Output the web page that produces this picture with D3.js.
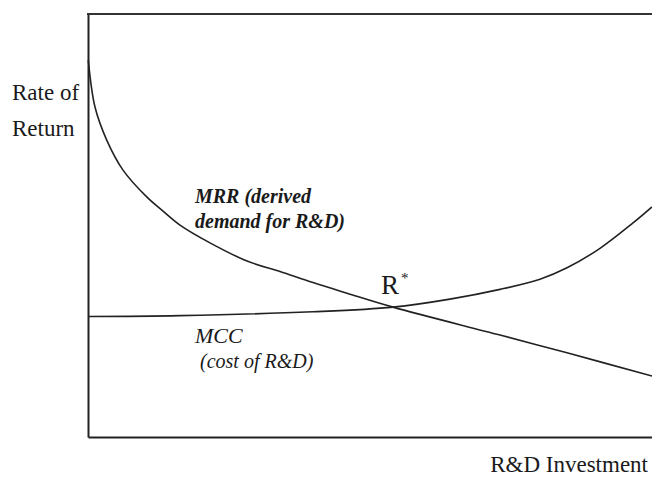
<!DOCTYPE html>
<html>
<head>
<meta charset="utf-8">
<script src="https://cdn.jsdelivr.net/npm/d3@7"></script>
<style>
  body { margin: 0; background: #fff; }
  text { font-family: "Liberation Serif", "Times New Roman", serif; fill: #1a1a1a; }
</style>
</head>
<body>
<svg id="chart"></svg>
<script>
const width = 652;
const height = 477;

// MRR (derived demand for R&D)
const mrrX = [0.05, 1.24, 3.32, 6.21, 10.46, 13.3, 16.31, 21.63, 28.19, 34.04, 39.89, 45.92, 54.08, 73.05, 84.93, 100];
const mrrY = [89.1, 78.0, 70.2, 63.1, 56.7, 53.4, 50.1, 45.9, 41.6, 39.1, 36.5, 34.0, 30.7, 24.1, 19.9, 14.4];

// MCC (cost of R&D)
const mccX = [0, 16.31, 39.89, 54.08, 64.18, 73.05, 80.14, 84.93, 90.78, 96.63, 100];
const mccY = [28.5, 28.7, 29.6, 30.7, 32.6, 34.9, 37.3, 40.0, 44.6, 50.6, 54.4];

// equilibrium point R*
const eqX = 54.08;
const eqY = 30.7;

var svg = d3.select("#chart")
    .attr("width", width)
    .attr("height", height);

var x = d3.scaleLinear().domain([0, 100]).range([88, 652]);
var y = d3.scaleLinear().domain([0, 100]).range([437, 14]);

var line = d3.line()
    .x(d => x(d[0]))
    .y(d => y(d[1]))
    .curve(d3.curveCatmullRom.alpha(0.5));

// frame: left axis, bottom axis, top line
svg.append("g")
    .attr("transform", `translate(${x(0)},0)`)
    .call(d3.axisLeft(y).ticks(0).tickSizeOuter(0))
    .select(".domain").attr("stroke", "#222").attr("stroke-width", 2);

svg.append("g")
    .attr("transform", `translate(0,${y(0)})`)
    .call(d3.axisBottom(x).ticks(0).tickSizeOuter(0))
    .select(".domain").attr("stroke", "#222").attr("stroke-width", 2);

svg.append("line")
    .attr("x1", x(0) - 1).attr("x2", x(100))
    .attr("y1", y(100)).attr("y2", y(100))
    .attr("stroke", "#333").attr("stroke-width", 2);

// curves
svg.append("path")
    .datum(d3.zip(mrrX, mrrY))
    .attr("fill", "none")
    .attr("stroke", "#222")
    .attr("stroke-width", 1.6)
    .attr("d", line);

svg.append("path")
    .datum(d3.zip(mccX, mccY))
    .attr("fill", "none")
    .attr("stroke", "#222")
    .attr("stroke-width", 1.6)
    .attr("d", line);

// axis titles
svg.append("text").attr("x", 12).attr("y", 100)
    .style("font-size", "23px").text("Rate of");
svg.append("text").attr("x", 12).attr("y", 136)
    .style("font-size", "23px").text("Return");
svg.append("text").attr("x", 648).attr("y", 472)
    .attr("text-anchor", "end")
    .style("font-size", "23px").text("R&D Investment");

// curve labels
svg.append("text").attr("x", 195).attr("y", 203)
    .style("font-size", "20px").style("font-style", "italic").style("font-weight", "bold")
    .text("MRR (derived");
svg.append("text").attr("x", 195).attr("y", 228)
    .style("font-size", "20px").style("font-style", "italic").style("font-weight", "bold")
    .text("demand for R&D)");

svg.append("text").attr("x", 195).attr("y", 343)
    .style("font-size", "22px").style("font-style", "italic")
    .text("MCC");
svg.append("text").attr("x", 200).attr("y", 368)
    .style("font-size", "20px").style("font-style", "italic")
    .text("(cost of R&D)");

// R* label
var rstar = svg.append("text")
    .attr("x", x(eqX) - 12).attr("y", y(eqY) - 13)
    .style("font-size", "27px");
rstar.append("tspan").text("R");
rstar.append("tspan").attr("dy", -11).attr("dx", 2)
    .style("font-size", "15px").text("*");
</script>
</body>
</html>
